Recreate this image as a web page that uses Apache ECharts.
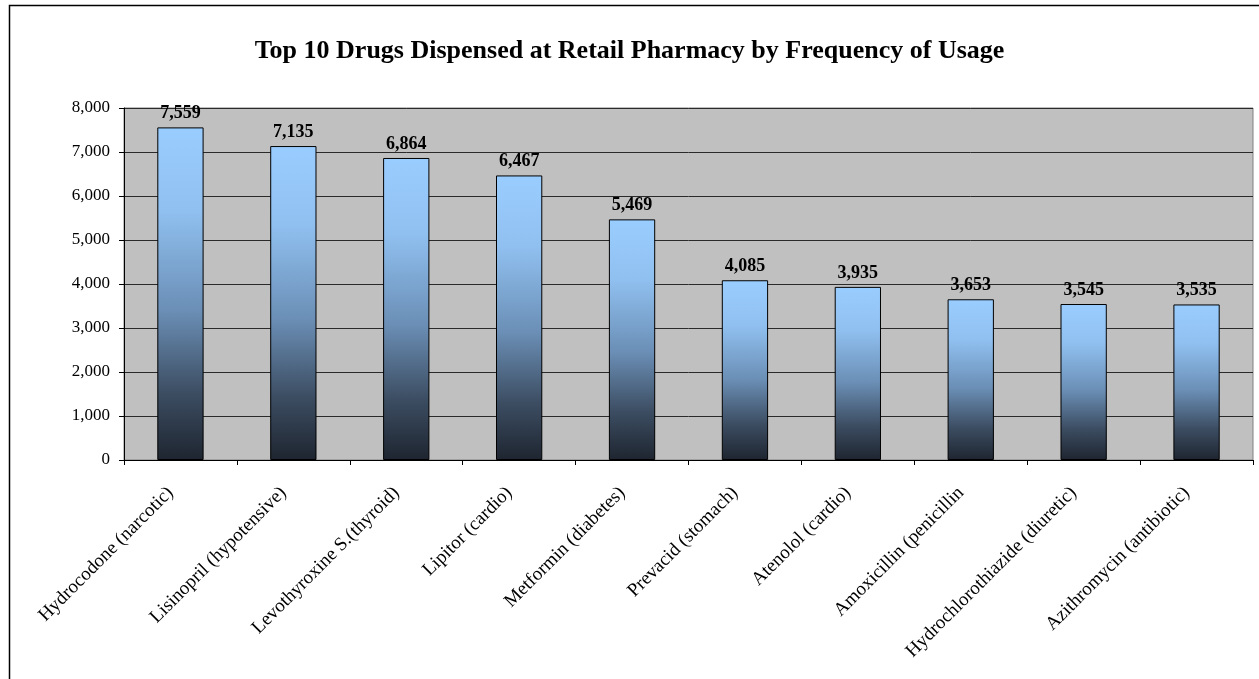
<!DOCTYPE html>
<html>
<head>
<meta charset="utf-8">
<script src="https://cdn.jsdelivr.net/npm/echarts@6/dist/echarts.min.js"></script>
<style>
html,body{margin:0;padding:0;background:#fff;}
#c{width:1259px;height:679px;}
</style>
</head>
<body>
<div id="c"></div>
<script>
const titleText = 'Top 10 Drugs Dispensed at Retail Pharmacy by Frequency of Usage';
const categories = ['Hydrocodone (narcotic)','Lisinopril (hypotensive)','Levothyroxine S.(thyroid)','Lipitor (cardio)','Metformin (diabetes)','Prevacid (stomach)','Atenolol (cardio)','Amoxicillin (penicillin','Hydrochlorothiazide (diuretic)','Azithromycin (antibiotic)'];
const values = [7559,7135,6864,6467,5469,4085,3935,3653,3545,3535];
const yMin = 0, yMax = 8000, yStep = 1000;

const font = '"Liberation Serif","Times New Roman",serif';
const chart = echarts.init(document.getElementById('c'));
chart.setOption({
  animation:false,
  backgroundColor:'#fff',
  title:{text:titleText,left:'center',top:33,textStyle:{fontFamily:font,fontWeight:'bold',fontSize:26,color:'#000'}},
  graphic:[{type:'rect',shape:{x:9.5,y:5.5,width:1300,height:700},style:{fill:null,stroke:'#000',lineWidth:1.5},z:-1}],
  grid:{left:124,right:6,top:108,bottom:219,show:true,backgroundColor:'#C0C0C0',borderColor:'#808080',borderWidth:1},
  xAxis:{type:'category',data:categories,
    axisLine:{lineStyle:{color:'#000'}},
    axisTick:{show:true,length:5,lineStyle:{color:'#000'}},
    axisLabel:{rotate:45,interval:0,margin:20,padding:[0,14,0,0],fontFamily:font,fontSize:19,color:'#000'}},
  yAxis:{type:'value',min:yMin,max:yMax,interval:yStep,
    axisLine:{show:true,lineStyle:{color:'#000'}},
    axisTick:{show:true,length:5,lineStyle:{color:'#000'}},
    axisLabel:{margin:14,fontFamily:font,fontSize:17,color:'#000',formatter:v=>v.toLocaleString('en-US')},
    splitLine:{show:true,lineStyle:{color:'#2a2a2a',width:1}}},
  series:[{type:'bar',data:values,barWidth:'41%',
    itemStyle:{borderColor:'#000',borderWidth:1,
      color:new echarts.graphic.LinearGradient(0,0,0,1,[
        {offset:0,color:'#9ACDFF'},{offset:0.25,color:'#90C0F0'},{offset:0.55,color:'#6B8FB6'},{offset:0.8,color:'#3C4D62'},{offset:1,color:'#1E2530'}])},
    label:{show:true,position:'top',distance:5,fontFamily:font,fontWeight:'bold',fontSize:18,color:'#000',formatter:p=>p.value.toLocaleString('en-US')}
  }]
});
</script>
</body>
</html>
